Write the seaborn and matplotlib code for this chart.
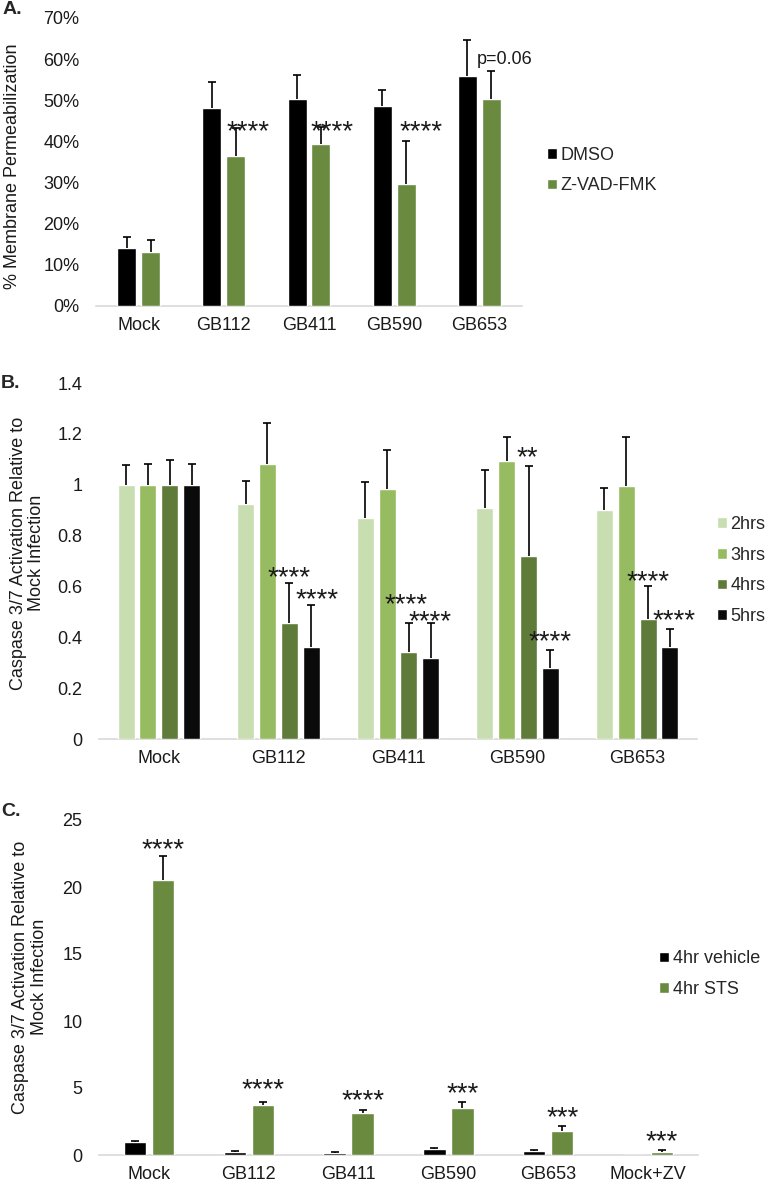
import pandas as pd
import matplotlib.pyplot as plt
import seaborn as sns
from matplotlib.ticker import PercentFormatter, FuncFormatter

# ---- Panel A: membrane permeabilization ----
groups_a = ["Mock", "GB112", "GB411", "GB590", "GB653"]
treat_a = ["DMSO", "Z-VAD-FMK"]
dmso = [0.140, 0.482, 0.503, 0.485, 0.558]
dmso_err = [0.027, 0.062, 0.058, 0.039, 0.088]
zvad = [0.132, 0.364, 0.393, 0.296, 0.503]
zvad_err = [0.028, 0.068, 0.042, 0.104, 0.067]
stars_a = ["****", "****", "****", "p=0.06"]
stars_a_x = [1.29, 2.27, 3.31, 4.30]
stars_a_y = [0.444, 0.444, 0.444, 0.604]

# ---- Panel B: caspase 3/7 time course ----
groups_b = ["Mock", "GB112", "GB411", "GB590", "GB653"]
times_b = ["2hrs", "3hrs", "4hrs", "5hrs"]
h2 = [1.0, 0.925, 0.869, 0.908, 0.902]
h2_err = [0.079, 0.091, 0.140, 0.148, 0.085]
h3 = [1.0, 1.081, 0.984, 1.094, 0.993]
h3_err = [0.083, 0.160, 0.154, 0.094, 0.195]
h4 = [1.0, 0.458, 0.341, 0.718, 0.471]
h4_err = [0.098, 0.155, 0.114, 0.354, 0.129]
h5 = [1.0, 0.361, 0.320, 0.278, 0.361]
h5_err = [0.083, 0.167, 0.135, 0.072, 0.071]
stars_b = ["****", "****", "****", "****", "**", "****", "****", "****"]
stars_b_x = [1.092, 1.321, 2.071, 2.267, 3.083, 3.267, 4.092, 4.304]
stars_b_y = [0.669, 0.580, 0.560, 0.495, 1.138, 0.416, 0.652, 0.497]

# ---- Panel C: caspase 3/7 with staurosporine ----
groups_c = ["Mock", "GB112", "GB411", "GB590", "GB653", "Mock+ZV"]
treat_c = ["4hr vehicle", "4hr STS"]
vehicle = [1.0, 0.25, 0.13, 0.42, 0.30, 0.0]
vehicle_err = [0.08, 0.03, 0.10, 0.07, 0.04, 0.0]
sts = [20.5, 3.73, 3.11, 3.49, 1.81, 0.25]
sts_err = [1.8, 0.25, 0.25, 0.49, 0.38, 0.12]
stars_c = ["****", "****", "****", "***", "***", "***"]
stars_c_y = [23.4, 5.47, 4.72, 5.22, 3.43, 1.62]

green = "#6a8a40"

df_a = pd.DataFrame({
    "group": groups_a * 2,
    "treatment": [treat_a[0]] * 5 + [treat_a[1]] * 5,
    "value": dmso + zvad,
})
df_b = pd.DataFrame({
    "group": groups_b * 4,
    "time": [t for t in times_b for _ in groups_b],
    "value": h2 + h3 + h4 + h5,
})
df_c = pd.DataFrame({
    "group": groups_c * 2,
    "treatment": [treat_c[0]] * 6 + [treat_c[1]] * 6,
    "value": vehicle + sts,
})

sns.set_theme(style="white")
plt.rcParams["font.family"] = ["Liberation Sans", "DejaVu Sans"]
plt.rcParams["font.size"] = 13

fig = plt.figure(figsize=(7.66, 11.86), dpi=100)
W, H = 766, 1186
ax_a = fig.add_axes([96 / W, 1 - 306 / H, 426 / W, 288 / H])
ax_b = fig.add_axes([99 / W, 1 - 739 / H, 598 / W, 356 / H])
ax_c = fig.add_axes([99 / W, 1 - 1155 / H, 599 / W, 335 / H])


def add_errs(ax, errs):
    # upper-only error bars with a cap at the top
    for cont, err in zip(ax.containers, errs):
        for bar, e in zip(cont, err):
            if e <= 0:
                continue
            x = bar.get_x() + bar.get_width() / 2
            y = bar.get_height()
            ax.plot([x, x], [y, y + e], color="black", lw=1.2, solid_capstyle="butt")
            ax.plot([x], [y + e], marker="_", ms=6, mew=1.2, color="black")


def style(ax, n):
    sns.despine(ax=ax, left=True)
    ax.spines["bottom"].set_color("#d9d9d9")
    ax.spines["bottom"].set_linewidth(1.2)
    ax.spines["bottom"].set_zorder(0)
    ax.tick_params(axis="x", length=0, pad=8, labelsize=13, colors="#1a1a1a")
    ax.tick_params(axis="y", length=0, pad=12, labelsize=13, colors="#1a1a1a")
    ax.set_xlabel("")
    ax.set_ylabel("")
    ax.set_xlim(-0.5, n - 0.5)


def stars(ax, labels, xs, ys, fs=20):
    for s, x, y in zip(labels, xs, ys):
        if s.startswith("p"):
            ax.annotate(s, (x, y), xytext=(0, -0.36 * 13), textcoords="offset points",
                        ha="center", va="baseline", fontsize=13, color="#1a1a1a")
        else:
            ax.annotate(s, (x, y), xytext=(0, -0.575 * fs), textcoords="offset points",
                        ha="center", va="baseline", fontsize=fs, color="#1a1a1a")


leg_kw = dict(frameon=False, title=None, handlelength=0.55, handleheight=0.55,
              handletextpad=0.2, labelspacing=0.75, borderpad=0, borderaxespad=0,
              fontsize=13)

# --- A ---
sns.barplot(data=df_a, x="group", y="value", hue="treatment", order=groups_a,
            hue_order=treat_a, palette={"DMSO": "black", "Z-VAD-FMK": green},
            width=0.56, gap=0.2, saturation=1, errorbar=None, ax=ax_a)
add_errs(ax_a, [dmso_err, zvad_err])
style(ax_a, len(groups_a))
ax_a.set_ylim(0, 0.70)
ax_a.set_yticks([i / 10 for i in range(8)])
ax_a.yaxis.set_major_formatter(PercentFormatter(1.0, decimals=0))
stars(ax_a, stars_a, stars_a_x, stars_a_y)
sns.move_legend(ax_a, loc="center left", bbox_to_anchor=(1.059, 0.47), **leg_kw)
ax_a.text(-0.197, 0.486, "% Membrane Permeabilization", rotation=90, ha="center",
          va="center", transform=ax_a.transAxes, fontsize=13, color="#1a1a1a")

# --- B ---
sns.barplot(data=df_b, x="group", y="value", hue="time", order=groups_b,
            hue_order=times_b,
            palette={"2hrs": "#c8deb0", "3hrs": "#97bb60", "4hrs": "#5e7b3a", "5hrs": "#0a0a0a"},
            width=0.73, gap=0.22, saturation=1, errorbar=None, ax=ax_b)
add_errs(ax_b, [h2_err, h3_err, h4_err, h5_err])
style(ax_b, len(groups_b))
ax_b.set_ylim(0, 1.4)
ax_b.set_yticks([i * 0.2 for i in range(8)])
ax_b.yaxis.set_major_formatter(FuncFormatter(lambda v, p: f"{v:.1f}".rstrip("0").rstrip(".")))
stars(ax_b, stars_b, stars_b_x, stars_b_y)
sns.move_legend(ax_b, loc="center left", bbox_to_anchor=(1.033, 0.473), **leg_kw)
ax_b.text(-0.12, 0.522, "Caspase 3/7 Activation Relative to\nMock Infection", rotation=90,
          ha="center", va="center", multialignment="center", linespacing=1.1,
          transform=ax_b.transAxes, fontsize=13, color="#1a1a1a")

# --- C ---
sns.barplot(data=df_c, x="group", y="value", hue="treatment", order=groups_c,
            hue_order=treat_c, palette={"4hr vehicle": "black", "4hr STS": green},
            width=0.56, gap=0.2, saturation=1, errorbar=None, ax=ax_c)
add_errs(ax_c, [vehicle_err, sts_err])
style(ax_c, len(groups_c))
ax_c.set_ylim(0, 25)
ax_c.set_yticks(range(0, 26, 5))
stars(ax_c, stars_c, [i + 0.14 for i in range(len(groups_c))], stars_c_y)
sns.move_legend(ax_c, loc="center left", bbox_to_anchor=(0.935, 0.54), **leg_kw)
ax_c.text(-0.115, 0.531, "Caspase 3/7 Activation Relative to\nMock Infection", rotation=90,
          ha="center", va="center", multialignment="center", linespacing=1.1,
          transform=ax_c.transAxes, fontsize=13, color="#1a1a1a")

# panel letters
fig.text(3 / W, 1 - 10 / H, "A.", ha="left", va="center", fontsize=14, weight="bold")
fig.text(1 / W, 1 - 383 / H, "B.", ha="left", va="center", fontsize=14, weight="bold")
fig.text(1 / W, 1 - 811 / H, "C.", ha="left", va="center", fontsize=14, weight="bold")

fig.savefig("out.png", dpi=100)
